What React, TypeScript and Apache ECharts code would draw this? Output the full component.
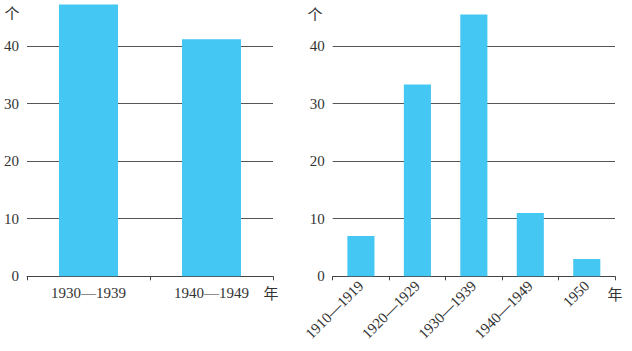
import React, { useEffect, useRef } from "react";
import * as echarts from "echarts";

const leftCategories = ["1930—1939", "1940—1949"];
const leftValues = [47.2, 41.2];
const rightCategories = ["1910—1919", "1920—1929", "1930—1939", "1940—1949", "1950"];
const rightValues = [7, 33.3, 45.5, 11, 3];
const yUnit = "个";
const xUnit = "年";

const SERIF = "'Liberation Serif', 'DejaVu Serif', serif";
const CJK = "'Noto Sans CJK SC', sans-serif";
const BAR = "#45C7F3";
const TEXT = "#333";

export default function App() {
  const ref = useRef<HTMLDivElement>(null);
  useEffect(() => {
    if (!ref.current) return;
    const chart = echarts.init(ref.current, null, { renderer: "svg" });
    const yAxisBase = {
      type: "value" as const,
      min: 0,
      max: 48,
      interval: 10,
      axisLine: { show: false },
      axisTick: { show: false },
      axisLabel: { color: TEXT, fontFamily: SERIF, fontSize: 15, margin: 8, showMaxLabel: false },
      splitLine: { show: true, showMaxLine: false, lineStyle: { color: "#555", width: 1 } },
    };
    const xAxisBase = {
      type: "category" as const,
      boundaryGap: true,
      axisLine: { show: true, lineStyle: { color: "#444", width: 1 } },
      axisTick: { show: true, length: 4, inside: false, lineStyle: { color: "#444" } },
      axisLabel: { color: TEXT, fontFamily: SERIF, fontSize: 15, margin: 9 },
    };
    chart.setOption({
      animation: false,
      grid: [
        { left: 27, width: 246, top: 0, bottom: 74.7 },
        { left: 332.7, width: 282.3, top: 0, bottom: 74.7 },
      ],
      xAxis: [
        { ...xAxisBase, gridIndex: 0, data: leftCategories },
        {
          ...xAxisBase,
          gridIndex: 1,
          data: rightCategories,
          axisLabel: { ...xAxisBase.axisLabel, rotate: 45, interval: 0, margin: 7 },
        },
      ],
      yAxis: [
        { ...yAxisBase, gridIndex: 0 },
        { ...yAxisBase, gridIndex: 1 },
      ],
      series: [
        {
          type: "bar",
          xAxisIndex: 0,
          yAxisIndex: 0,
          data: leftValues,
          barWidth: "48%",
          itemStyle: { color: BAR },
        },
        {
          type: "bar",
          xAxisIndex: 1,
          yAxisIndex: 1,
          data: rightValues,
          barWidth: "48%",
          itemStyle: { color: BAR },
        },
      ],
      graphic: [
        { type: "text", x: 12, y: 12, style: { text: yUnit, font: `15px ${CJK}`, fill: TEXT, textAlign: "center", textVerticalAlign: "middle" } },
        { type: "text", x: 271, y: 292, style: { text: xUnit, font: `15px ${CJK}`, fill: TEXT, textAlign: "center", textVerticalAlign: "middle" } },
        { type: "text", x: 315, y: 13, style: { text: yUnit, font: `15px ${CJK}`, fill: TEXT, textAlign: "center", textVerticalAlign: "middle" } },
        { type: "text", x: 615, y: 293, style: { text: xUnit, font: `15px ${CJK}`, fill: TEXT, textAlign: "center", textVerticalAlign: "middle" } },
      ],
    });
    return () => chart.dispose();
  }, []);
  return <div ref={ref} style={{ width: 632, height: 351, position: "absolute", left: 0, top: 0 }} />;
}
